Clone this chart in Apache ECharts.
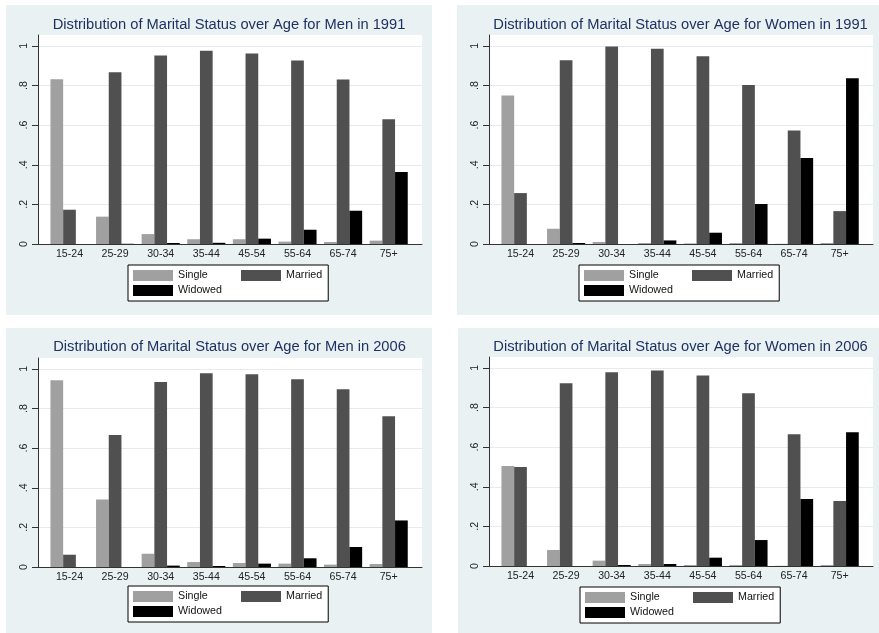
<!DOCTYPE html>
<html>
<head>
<meta charset="utf-8">
<title>Marital Status by Age</title>
<script src="https://cdn.jsdelivr.net/npm/echarts@6/dist/echarts.min.js"></script>
<style>
  html, body { margin: 0; padding: 0; background: #ffffff; }
  #chart { width: 879px; height: 633px; }
</style>
</head>
<body>
<div id="chart"></div>
<script>
// ---- data ----
const ageGroups = ['15-24', '25-29', '30-34', '35-44', '45-54', '55-64', '65-74', '75+'];
const statusNames = ['Single', 'Married', 'Widowed'];
const yTickValues = [0, 0.2, 0.4, 0.6, 0.8, 1];
const yTickLabels = ['0', '.2', '.4', '.6', '.8', '1'];

const men1991Single  = [0.832, 0.138, 0.050, 0.024, 0.024, 0.012, 0.010, 0.017];
const men1991Married = [0.173, 0.867, 0.951, 0.976, 0.961, 0.926, 0.830, 0.630];
const men1991Widowed = [0.000, 0.001, 0.005, 0.006, 0.027, 0.072, 0.168, 0.363];

const women1991Single  = [0.750, 0.077, 0.010, 0.005, 0.003, 0.005, 0.001, 0.005];
const women1991Married = [0.257, 0.928, 0.997, 0.985, 0.948, 0.803, 0.573, 0.166];
const women1991Widowed = [0.000, 0.005, 0.000, 0.018, 0.057, 0.202, 0.434, 0.837];

const men2006Single  = [0.943, 0.341, 0.067, 0.025, 0.020, 0.017, 0.012, 0.015];
const men2006Married = [0.062, 0.666, 0.934, 0.978, 0.973, 0.948, 0.897, 0.761];
const men2006Widowed = [0.000, 0.000, 0.007, 0.005, 0.017, 0.044, 0.101, 0.235];

const women2006Single  = [0.505, 0.081, 0.027, 0.010, 0.005, 0.005, 0.001, 0.005];
const women2006Married = [0.500, 0.923, 0.978, 0.987, 0.961, 0.872, 0.665, 0.328];
const women2006Widowed = [0.000, 0.000, 0.005, 0.010, 0.042, 0.131, 0.338, 0.675];

// ---- look ----
const FONT = '"Liberation Sans", Arial, Helvetica, sans-serif';
const statusColors = ['#a0a0a0', '#505050', '#000000'];
const PANEL_BG = '#e9f1f3';
const TITLE_COLOR = '#1f3160';
const Y_MAX = 1.055;
const PLOT_H = 209;

// panel layouts
const panels = [
  { title: 'Distribution of Marital Status over Age for Men in 1991',
    series: [men1991Single, men1991Married, men1991Widowed],
    box: [6, 5, 426, 310], axisX: 38, axisEnd: 422, top: 35, titleX: 229, titleY: 25, legendX: 128, legendY: 265 },
  { title: 'Distribution of Marital Status over Age for Women in 1991',
    series: [women1991Single, women1991Married, women1991Widowed],
    box: [457, 5, 422, 310], axisX: 489, axisEnd: 873, top: 35, titleX: 680.5, titleY: 25, legendX: 579, legendY: 265 },
  { title: 'Distribution of Marital Status over Age for Men in 2006',
    series: [men2006Single, men2006Married, men2006Widowed],
    box: [6, 328, 426, 305], axisX: 38, axisEnd: 422, top: 358, titleX: 229.5, titleY: 347, legendX: 128, legendY: 586 },
  { title: 'Distribution of Marital Status over Age for Women in 2006',
    series: [women2006Single, women2006Married, women2006Widowed],
    box: [458, 328, 421, 305], axisX: 489, axisEnd: 873, top: 357, titleX: 680.5, titleY: 347, legendX: 580, legendY: 587 }
];

const grid = [], xAxis = [], yAxis = [], series = [], legend = [], graphic = [];

panels.forEach((p, i) => {
  const outer = i * 2, inner = i * 2 + 1;
  const plotW = p.axisEnd - p.axisX;
  const bandStart = p.axisX + 8.7;
  const bandW = 364.8;

  // panel background and title
  graphic.push({
    type: 'rect', z: -10, silent: true,
    shape: { x: p.box[0], y: p.box[1], width: p.box[2], height: p.box[3] },
    style: { fill: PANEL_BG }
  });
  graphic.push({
    type: 'text', z: 10, silent: true, x: p.titleX, y: p.titleY,
    style: { text: p.title, fill: TITLE_COLOR, font: '14.7px ' + FONT, textAlign: 'center', textVerticalAlign: 'middle' }
  });

  // outer grid: white plot region, y axis, x axis line
  grid.push({ left: p.axisX, top: p.top, width: plotW, height: PLOT_H,
              show: true, backgroundColor: '#ffffff', borderWidth: 0, containLabel: false });
  xAxis.push({ gridIndex: outer, type: 'value', min: 0, max: 1,
               axisLine: { show: true, onZero: false, lineStyle: { color: '#333333', width: 1 } },
               axisTick: { show: false }, axisLabel: { show: false }, splitLine: { show: false } });
  yAxis.push({ gridIndex: outer, type: 'value', min: 0, max: Y_MAX,
               axisLine: { show: true, lineStyle: { color: '#333333', width: 1 } },
               axisTick: { show: true, length: 6, customValues: yTickValues, lineStyle: { color: '#333333' } },
               axisLabel: { show: true, rotate: 90, margin: 8, customValues: yTickValues,
                            formatter: v => yTickLabels[yTickValues.findIndex(t => Math.abs(t - v) < 1e-6)] ?? '',
                            color: '#222222', fontSize: 10.6, fontFamily: FONT },
               splitLine: { show: true, lineStyle: { color: '#e4ecef', width: 1 } } });

  // inner grid: the category bands holding the bars
  grid.push({ left: bandStart, top: p.top, width: bandW, height: PLOT_H, containLabel: false });
  xAxis.push({ gridIndex: inner, type: 'category', data: ageGroups,
               axisLine: { show: false }, axisTick: { show: false },
               axisLabel: { show: true, margin: 5, color: '#222222', fontSize: 10.6, fontFamily: FONT },
               splitLine: { show: false } });
  yAxis.push({ gridIndex: inner, type: 'value', min: 0, max: Y_MAX, show: false,
               splitLine: { show: false } });

  statusNames.forEach((name, k) => {
    series.push({
      name: name, type: 'bar', xAxisIndex: inner, yAxisIndex: inner,
      data: p.series[k], barWidth: 12.7, barGap: '0%',
      itemStyle: { color: statusColors[k] }, silent: true, animation: false
    });
  });

  legend.push({
    left: p.legendX, top: p.legendY, width: 192, orient: 'horizontal',
    padding: [5, 6, 5, 5], itemGap: 4, itemWidth: 40, itemHeight: 11,
    icon: 'rect', selectedMode: false,
    backgroundColor: '#ffffff', borderColor: '#000000', borderWidth: 1, borderRadius: 0,
    textStyle: { color: '#111111', fontSize: 10.7, fontFamily: FONT, lineHeight: 11 },
    data: [
      { name: 'Single', textStyle: { width: 59 } },
      { name: 'Married' },
      { name: 'Widowed', textStyle: { width: 59 } }
    ]
  });
});

const chart = echarts.init(document.getElementById('chart'), null, { renderer: 'canvas' });
chart.setOption({
  animation: false,
  backgroundColor: '#ffffff',
  color: statusColors,
  textStyle: { fontFamily: FONT },
  graphic: graphic,
  grid: grid,
  xAxis: xAxis,
  yAxis: yAxis,
  legend: legend,
  series: series
});
</script>
</body>
</html>
